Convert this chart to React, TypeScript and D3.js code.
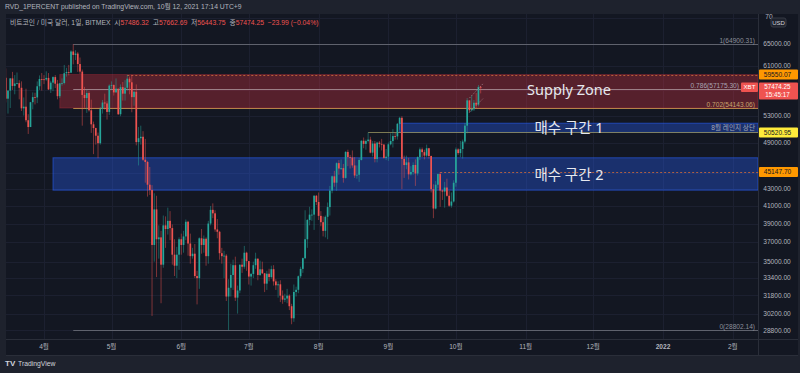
import { useEffect, useRef } from "react";
import * as d3 from "d3";

const W = 800;
const H = 373;

// daily candles, [high, low, close]; open = previous close
const firstDay = "2021-03-15";
const firstOpen = 59000;
const mar = [
  [60600, 55000, 55600], [56900, 53300, 56900], [58950, 54150, 58900], [60000, 57000, 57650],
  [59450, 56300, 58050], [59900, 57900, 58100], [58600, 55500, 57350], [58400, 53700, 54100],
  [55800, 53000, 54350], [57200, 52000, 52300], [53200, 50300, 51300], [55100, 51300, 55050],
  [56600, 53950, 55850], [56550, 54700, 55800], [58400, 54900, 57600], [59400, 57000, 58800],
  [59800, 56900, 58750],
];
const apr = [
  [59450, 57950, 58720], [60100, 58500, 58980], [59800, 57000, 57080], [58500, 56500, 58200],
  [59250, 56800, 59120], [59450, 57300, 58020], [58650, 55500, 56000], [58150, 55700, 58080],
  [58900, 57700, 58130], [61200, 57900, 59770], [60700, 59200, 59980], [61200, 59400, 59860],
  [63800, 59860, 63580], [64900, 61300, 62960], [63800, 62050, 63200], [63500, 60000, 61350],
  [62500, 59650, 60050], [60400, 51500, 56200], [57500, 54200, 55700], [57000, 53400, 56500],
  [56800, 53600, 53800], [55450, 50450, 51700], [52100, 47500, 51150], [51200, 48800, 50050],
  [50500, 46950, 49000], [54300, 48800, 54000], [55400, 53300, 55000], [56400, 53900, 54850],
  [55200, 52400, 53550], [57900, 53100, 57700],
];
const may = [
  [58400, 57100, 57800], [57900, 56100, 56600], [58900, 56600, 57200], [57200, 53100, 53200],
  [57900, 52900, 57450], [58300, 55300, 56400], [58600, 55300, 57350], [59500, 56900, 58850],
  [59200, 56300, 58250], [59500, 53500, 55850], [56900, 54500, 56700], [57900, 48700, 49150],
  [51300, 46000, 49700], [51500, 48800, 49900], [50700, 46600, 46750], [49600, 43800, 46450],
  [46600, 42100, 43550], [45800, 42300, 42900], [43500, 30000, 36700], [42500, 35000, 40600],
  [42200, 33500, 37300], [38800, 35300, 37500], [38200, 31100, 34700], [39900, 34400, 38800],
  [39800, 36400, 38400], [40800, 37800, 39300], [40400, 37200, 38500], [38900, 34700, 35700],
  [37300, 33600, 34600], [36500, 33400, 35700], [37500, 34200, 37300],
];
const jun = [
  [37900, 35700, 36700], [38200, 35900, 37600], [39450, 37200, 39200], [39300, 35600, 36850],
  [37900, 34800, 35550], [36400, 35300, 35800], [36800, 33400, 33600], [34100, 31000, 33400],
  [37500, 32400, 37400], [38400, 35800, 36700], [37700, 35900, 37350], [37500, 34600, 35550],
  [39300, 34800, 39000], [41000, 38800, 40550], [41300, 39600, 40150], [40500, 38100, 38350],
  [39500, 37400, 38100], [38200, 35200, 35850], [36400, 34800, 35550], [36100, 33400, 35600],
  [35750, 31300, 31700], [33300, 28800, 32500], [34800, 31700, 33700], [35200, 32300, 34650],
  [35500, 31300, 31600], [32700, 30200, 32250], [34700, 32000, 34700], [35300, 33900, 34500],
  [36600, 34300, 35900], [36000, 34100, 35050],
];
const jul = [
  [35050, 32800, 33550], [33900, 32700, 33800], [35000, 33400, 34650], [35900, 34300, 35300],
  [35300, 33200, 33700], [35100, 33600, 34250], [35000, 33800, 33860], [33900, 32100, 32880],
  [34100, 32300, 33820], [34300, 33100, 33500], [34600, 33350, 34260], [34650, 32700, 33090],
  [33300, 32300, 32730], [33100, 31600, 32820], [33200, 31200, 31780], [32250, 31050, 31420],
  [31950, 31200, 31520], [32400, 31100, 31780], [31900, 30500, 30840], [31050, 29300, 29800],
  [32800, 29500, 32110], [32600, 31700, 32310], [33650, 32000, 33580], [34500, 33400, 34290],
  [35400, 33900, 35350], [40500, 35250, 37300], [39500, 36400, 39400], [40900, 38800, 40000],
  [40600, 39300, 40000], [42300, 38300, 42200], [42300, 41100, 41460],
];
const aug = [
  [42600, 39400, 39860], [40400, 38700, 39150], [39800, 37600, 38200], [39900, 37500, 39750],
  [41400, 37300, 40870], [43400, 39900, 42830], [44700, 42500, 44600], [45300, 43300, 43800],
  [46400, 42800, 46300], [46700, 44800, 45600], [46800, 45400, 45650], [46200, 43800, 44400],
  [47900, 44300, 47800], [48100, 45900, 47100], [47400, 45600, 47050], [48000, 45700, 46000],
  [47100, 44400, 44700], [46000, 44300, 44800], [47000, 43900, 46720], [49400, 46650, 49340],
  [49800, 48300, 48900], [49500, 48100, 49300], [50500, 49100, 49500], [49900, 47600, 47700],
  [49300, 47200, 48950], [49300, 46400, 46850], [49200, 46400, 49080], [49300, 48400, 48900],
  [49600, 48000, 48800], [48900, 46900, 46990], [48200, 46700, 47150],
];
const sep = [
  [49100, 46600, 48850], [50400, 48700, 49300], [51000, 48400, 50000], [50500, 49500, 49950],
  [51900, 49500, 51770], [52800, 50900, 52660], [52900, 43000, 46860], [47300, 44400, 46050],
  [47300, 45500, 46400], [47000, 44200, 44850], [45900, 44700, 45150], [46400, 44800, 46060],
  [46800, 43400, 44960], [47200, 44700, 47100], [48400, 46700, 48150], [48400, 47100, 47770],
  [48100, 46800, 47300], [48800, 47100, 48300], [48350, 46900, 47250], [47300, 42600, 43000],
  [43600, 39600, 40700], [44000, 40600, 43550], [44950, 43100, 44890], [45150, 40900, 42840],
  [42950, 41700, 42710], [43900, 40800, 43200], [44300, 42100, 42200], [42800, 40900, 41030],
  [42600, 40800, 41520], [44100, 41400, 43790],
];
const oct = [
  [48400, 43300, 48140], [48300, 47400, 47640], [49300, 47100, 48200], [49500, 46900, 49230],
  [51900, 49000, 51500], [55700, 50400, 55340], [55300, 53400, 53800], [56100, 53600, 53950],
  [55400, 53700, 54960], [56500, 54100, 54660], [57800, 54400, 57486.32], [57662.69, 56443.75, 57474.25],
];

const gridTicks = [70000, 65000, 61000, 57000, 53000, 49000, 45000, 43000, 41000, 39000, 37000, 35000, 33400, 31800, 30200, 28800];
const priceLabels = [65000, 61000, 53000, 49000, 43000, 41000, 39000, 37000, 35000, 33400, 31800, 30200, 28800];
const monthTicks = ["2021-04-01", "2021-05-01", "2021-06-01", "2021-07-01", "2021-08-01", "2021-09-01", "2021-10-01", "2021-11-01", "2021-12-01", "2022-01-01", "2022-02-01"];
const monthLabels = ["4월", "5월", "6월", "7월", "8월", "9월", "10월", "11월", "12월", "2022", "2월"];

// fib retracement
const fibStart = "2021-04-14";
const fibHigh = 64900.31;
const fibLow = 28802.14;
const fibLevels = [1, 0.786, 0.702, 0];
const fibColors = ["#5f626d", "#9c7e86", "#b58249", "#5f626d"];
const fibTextColors = ["#8c8f9a", "#a9a3b3", "#c9a46e", "#8c8f9a"];

// zones
const zoneNames = ["Supply Zone", "매수 구간 1", "매수 구간 2"];
const zoneStart = ["2021-04-08", "2021-09-06", "2021-04-05"];
const zoneTop = [59550.07, 51860, 47010];
const zoneBottom = [54143.06, 50520.95, 42880];
const zoneColors = ["#f23645", "#2962ff", "#2962ff"];

// horizontal rays
const rayStart = ["2021-05-08", "2021-08-23", "2021-09-24"];
const rayPrice = [59550.07, 50520.95, 45147.7];
const rayColors = ["#c8683c", "#8f8c5c", "#c8683c"];
const rayDash = ["2,2", null, "2,2"];
const rayLabelBg = ["#ff9800", "#ffeb3b", "#ff9800"];
const rayNote = ["", "8월 레인지 상단", ""];

// short channel on the last candles
const chanDates = ["2021-10-07", "2021-10-13"];
const chanUpper = [55700, 58000];
const chanLower = [53500, 55600];

const lastPrice = 57474.25;
const countdown = "15:45:17";

const FONT = "'Liberation Sans', 'Noto Sans CJK KR', sans-serif";

export default function App() {
  const ref = useRef<SVGSVGElement>(null);

  useEffect(() => {
    const svg = d3.select(ref.current);
    svg.selectAll("*").remove();

    const left = 6;
    const right = 758;
    const top = 14;
    const bottom = 339;

    const x = d3.scaleUtc().domain([new Date("2021-04-01"), new Date("2022-01-01")]).range([44, 663]);
    const y = d3.scaleLog().domain([65000, 28800]).range([43.7, 330.3]);
    const fmt = d3.format(".2f");

    // build candles
    const rows = [...mar, ...apr, ...may, ...jun, ...jul, ...aug, ...sep, ...oct];
    const start = new Date(firstDay);
    const candles = rows.map((r, i) => ({
      date: d3.utcDay.offset(start, i),
      open: i === 0 ? firstOpen : rows[i - 1][2],
      high: r[0],
      low: r[1],
      close: r[2],
    }));

    // backgrounds
    svg.append("rect").attr("width", W).attr("height", H).attr("fill", "#1e222d");
    svg.append("rect").attr("x", left).attr("y", top).attr("width", 798 - left).attr("height", 355 - top).attr("fill", "#131722");

    svg.append("defs").append("clipPath").attr("id", "plot")
      .append("rect").attr("x", left).attr("y", top).attr("width", right - left).attr("height", bottom - top);

    const plot = svg.append("g").attr("clip-path", "url(#plot)");

    // grid
    plot.selectAll(".hg").data(gridTicks).enter().append("line")
      .attr("x1", left).attr("x2", right)
      .attr("y1", (d) => Math.round(y(d)) + 0.5).attr("y2", (d) => Math.round(y(d)) + 0.5)
      .attr("stroke", "#1c2030");
    plot.selectAll(".vg").data(monthTicks).enter().append("line")
      .attr("x1", (d) => Math.round(x(new Date(d))) + 0.5).attr("x2", (d) => Math.round(x(new Date(d))) + 0.5)
      .attr("y1", top).attr("y2", bottom)
      .attr("stroke", "#1c2030");

    // zones
    zoneNames.forEach((name, i) => {
      const x0 = x(new Date(zoneStart[i]));
      const y0 = y(zoneTop[i]);
      const y1 = y(zoneBottom[i]);
      plot.append("rect")
        .attr("x", x0).attr("y", y0).attr("width", right - x0).attr("height", y1 - y0)
        .attr("fill", zoneColors[i]).attr("fill-opacity", i === 0 ? 0.3 : 0.34)
        .attr("stroke", zoneColors[i]).attr("stroke-opacity", i === 0 ? 0.25 : 0.55).attr("stroke-width", 1);
    });

    // fib lines
    const fx = x(new Date(fibStart));
    fibLevels.forEach((lv, i) => {
      const v = fibLow + lv * (fibHigh - fibLow);
      const yy = Math.round(y(v)) + 0.5;
      plot.append("line").attr("x1", fx).attr("x2", right).attr("y1", yy).attr("y2", yy)
        .attr("stroke", fibColors[i]).attr("stroke-width", 1);
      // the 0.786 label sits under the XBT tag in the original, keep it clear of it
      plot.append("text").attr("x", lv === 0.786 ? 739 : 755).attr("y", yy - 2).attr("text-anchor", "end")
        .attr("font-family", FONT).attr("font-size", 6.6).attr("fill", fibTextColors[i])
        .text(`${lv}(${fmt(v)})`);
    });

    // rays
    rayPrice.forEach((p, i) => {
      const yy = Math.round(y(p)) + 0.5;
      plot.append("line").attr("x1", x(new Date(rayStart[i]))).attr("x2", right).attr("y1", yy).attr("y2", yy)
        .attr("stroke", rayColors[i]).attr("stroke-opacity", 0.85)
        .attr("stroke-dasharray", rayDash[i]);
      if (rayNote[i]) {
        plot.append("text").attr("x", 755).attr("y", yy - 2.5).attr("text-anchor", "end")
          .attr("font-family", FONT).attr("font-size", 6.6).attr("fill", "#a3a8b8")
          .text(rayNote[i]);
      }
    });

    // candles
    const up = "#26a69a";
    const down = "#ef5350";
    const g = plot.append("g");
    g.selectAll(".wick").data(candles).enter().append("line")
      .attr("x1", (d) => x(d.date)).attr("x2", (d) => x(d.date))
      .attr("y1", (d) => y(d.high)).attr("y2", (d) => y(d.low))
      .attr("stroke", (d) => (d.close >= d.open ? up : down))
      .attr("stroke-opacity", 0.55).attr("stroke-width", 0.9);
    g.selectAll(".body").data(candles).enter().append("rect")
      .attr("x", (d) => x(d.date) - 0.85)
      .attr("width", 1.7)
      .attr("y", (d) => y(Math.max(d.open, d.close)))
      .attr("height", (d) => Math.max(0.8, Math.abs(y(d.open) - y(d.close))))
      .attr("fill", (d) => (d.close >= d.open ? up : down));

    // channel
    [chanUpper, chanLower].forEach((c) => {
      plot.append("line")
        .attr("x1", x(new Date(chanDates[0]))).attr("y1", y(c[0]))
        .attr("x2", x(new Date(chanDates[1]))).attr("y2", y(c[1]))
        .attr("stroke", "#b89aa2").attr("stroke-opacity", 0.6).attr("stroke-dasharray", "1.5,1.5");
    });

    // zone labels
    zoneNames.forEach((name, i) => {
      const yc = (y(zoneTop[i]) + y(zoneBottom[i])) / 2;
      plot.append("text").attr("x", 569).attr("y", i === 0 ? yc - 1 : yc + 0.5).attr("dy", "0.35em")
        .attr("text-anchor", "middle")
        .attr("font-family", "'Noto Sans', 'Noto Sans CJK KR', sans-serif")
        .attr("font-size", 14.5).attr("fill", "#e6e8ee")
        .text(name);
    });

    // price axis
    svg.append("line").attr("x1", right + 0.5).attr("x2", right + 0.5).attr("y1", top).attr("y2", 355)
      .attr("stroke", "#2a2e39");
    svg.selectAll(".pt").data(priceLabels).enter().append("text")
      .attr("x", 777).attr("y", (d) => y(d)).attr("dy", "0.35em").attr("text-anchor", "middle")
      .attr("font-family", FONT).attr("font-size", 6.6).attr("fill", "#b2b5be")
      .text((d) => fmt(d));

    // USD tag (covers the 70000 label in the original)
    svg.append("text").attr("x", 769).attr("y", y(70000) - 1).attr("dy", "0.35em").attr("text-anchor", "middle")
      .attr("font-family", FONT).attr("font-size", 6.6).attr("fill", "#b2b5be").text("70");
    svg.append("rect").attr("x", 771).attr("y", 18).attr("width", 15).attr("height", 9).attr("rx", 2)
      .attr("fill", "#1e222d").attr("stroke", "#363a45");
    svg.append("text").attr("x", 778.5).attr("y", 22.7).attr("dy", "0.35em").attr("text-anchor", "middle")
      .attr("font-family", FONT).attr("font-size", 6).attr("fill", "#d1d4dc").text("USD");

    // ray labels on axis
    rayPrice.forEach((p, i) => {
      const yy = y(p);
      svg.append("rect").attr("x", right + 1).attr("y", yy - 5).attr("width", 39).attr("height", 10).attr("rx", 1)
        .attr("fill", rayLabelBg[i]);
      svg.append("text").attr("x", 777.5).attr("y", yy).attr("dy", "0.35em").attr("text-anchor", "middle")
        .attr("font-family", FONT).attr("font-size", 6.6).attr("fill", "#131722").text(fmt(p));
    });

    // last price
    const ly = y(lastPrice);
    svg.append("rect").attr("x", right + 1).attr("y", ly - 4.5).attr("width", 39).attr("height", 17).attr("rx", 1)
      .attr("fill", down);
    svg.append("text").attr("x", 777.5).attr("y", ly).attr("dy", "0.35em").attr("text-anchor", "middle")
      .attr("font-family", FONT).attr("font-size", 6.3).attr("fill", "#ffffff").text(fmt(lastPrice));
    svg.append("text").attr("x", 777.5).attr("y", ly + 8.2).attr("dy", "0.35em").attr("text-anchor", "middle")
      .attr("font-family", FONT).attr("font-size", 6.3).attr("fill", "#ffffff").text(countdown);
    svg.append("rect").attr("x", 741).attr("y", ly - 4.5).attr("width", 17).attr("height", 9.5).attr("rx", 1)
      .attr("fill", down);
    svg.append("text").attr("x", 749.5).attr("y", ly + 0.3).attr("dy", "0.35em").attr("text-anchor", "middle")
      .attr("font-family", FONT).attr("font-size", 6.2).attr("fill", "#ffffff").text("XBT");

    // time axis
    svg.append("line").attr("x1", left).attr("x2", 798).attr("y1", bottom + 0.5).attr("y2", bottom + 0.5)
      .attr("stroke", "#2a2e39");
    svg.selectAll(".mt").data(monthTicks).enter().append("text")
      .attr("x", (d) => x(new Date(d))).attr("y", 347).attr("dy", "0.35em").attr("text-anchor", "middle")
      .attr("font-family", FONT).attr("font-size", 6.6)
      .attr("font-weight", (d, i) => (monthLabels[i] === "2022" ? "bold" : "normal"))
      .attr("fill", "#b2b5be")
      .text((d, i) => monthLabels[i]);
    svg.append("line").attr("x1", left).attr("x2", 798).attr("y1", 355.5).attr("y2", 355.5)
      .attr("stroke", "#2a2e39");

    // header
    svg.append("text").attr("x", 5).attr("y", 7).attr("dy", "0.35em")
      .attr("font-family", FONT).attr("font-size", 6.8).attr("fill", "#b2b5be")
      .text("RVD_1PERCENT published on TradingView.com, 10월 12, 2021 17:14 UTC+9");

    const legend = svg.append("text").attr("x", 10).attr("y", 23).attr("dy", "0.35em")
      .attr("font-family", FONT).attr("font-size", 6.8);
    const parts: [string, string][] = [
      ["비트코인 / 미국 달러, 1일, BITMEX  시", "#b2b5be"],
      ["57486.32", down],
      ["  고", "#b2b5be"],
      ["57662.69", down],
      ["  저", "#b2b5be"],
      ["56443.75", down],
      ["  종", "#b2b5be"],
      ["57474.25", down],
      ["  −23.99 (−0.04%)", down],
    ];
    parts.forEach(([t, c]) => legend.append("tspan").attr("fill", c).attr("xml:space", "preserve").text(t));

    // footer logo
    svg.append("text").attr("x", 5).attr("y", 363.5).attr("dy", "0.35em")
      .attr("font-family", "'Liberation Sans', sans-serif").attr("font-weight", "bold").attr("font-size", 8)
      .attr("fill", "#d1d4dc").text("TV");
    svg.append("text").attr("x", 18).attr("y", 363.5).attr("dy", "0.35em")
      .attr("font-family", FONT).attr("font-size", 6.8).attr("fill", "#d1d4dc").text("TradingView");
  }, []);

  return (
    <svg
      ref={ref}
      width={W}
      height={H}
      style={{ position: "absolute", left: 0, top: 0, display: "block" }}
    />
  );
}
